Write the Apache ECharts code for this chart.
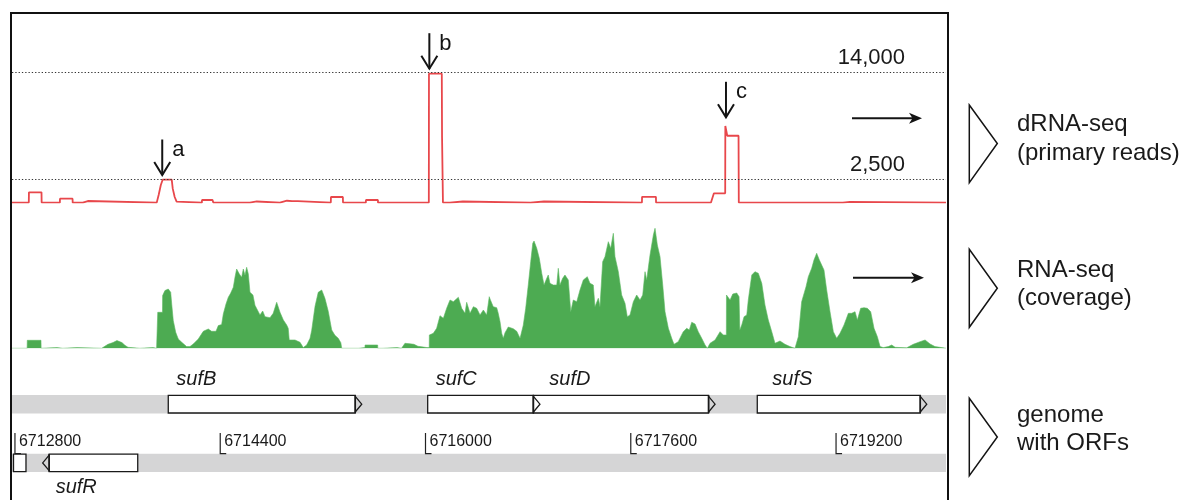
<!DOCTYPE html>
<html><head><meta charset="utf-8">
<script src="https://cdn.jsdelivr.net/npm/echarts@6/dist/echarts.min.js"></script>
<style>html,body{margin:0;padding:0;background:#fff}#c{width:1187px;height:500px}</style>
</head><body><div id="c"></div>
<script>
// ---------- data ----------
const xMin = 6712777, xMax = 6720057;          // genomic window shown
const thresholdValues = [14000, 2500];         // dotted reference levels (reads)

// dRNA-seq primary reads (step profile)
const drnaPos = [6712777,6712908,6712909,6713007,6713008,6713150,6713151,6713249,6713250,6713329,6713330,6713368,6713369,
 6713905,6713910,6713920,6713937,6713952,6714022,6714030,6714045,6714060,6714075,
 6714257,6714258,6714340,6714343,6714346,6714631,6714632,6714685,6714686,6714865,6714866,6714920,6714960,6715005,6715006,
 6715262,6715263,6715356,6715357,6715535,6715536,6715629,6715630,
 6716026,6716027,6716127,6716129,6716135,6716136,6716190,6716191,6716291,6716292,
 6716819,6716820,6716923,6716924,6717687,6717688,6717796,6717797,
 6718225,6718235,6718248,6718336,6718337,6718345,6718352,6718440,6718442,
 6719253,6719254,6719308,6719309,6720057];
const drnaVal = [0,0,1110,1110,0,0,420,420,0,0,170,170,0,
 0,100,820,1890,2480,2480,1500,600,100,0,
 0,280,280,330,0,0,120,120,0,0,150,200,150,150,0,
 0,600,600,0,0,280,280,0,
 0,13860,13860,7050,7050,0,0,120,120,0,
 0,120,120,0,0,620,620,0,
 0,100,1000,1000,8240,8240,7190,7190,0,
 0,80,80,0,0];

// RNA-seq coverage (relative units)
const covPos = [6712777,6712895,6712896,6713003,6713004,6713017,6713018,6713127,6713128,6713173,6713174,6713283,6713284,
 6713476,6713486,6713525,6713564,6713595,6713634,6713657,6713681,6713690,6713773,6713774,6713876,6713877,
 6713904,6713905,6713912,6713913,6713950,6713951,6713969,6713995,6714014,6714022,6714034,6714053,6714073,6714100,
 6714138,6714164,6714190,6714229,6714268,6714307,6714333,6714346,6714367,6714385,6714411,6714424,6714445,6714463,
 6714481,6714502,6714515,6714528,6714549,6714567,6714580,6714593,6714606,6714619,6714632,6714655,6714671,6714684,
 6714710,6714731,6714749,6714762,6714788,6714813,6714840,6714866,6714892,6714918,6714930,6714938,6714983,6715022,
 6715047,6715074,6715100,6715113,6715139,6715164,6715191,6715216,6715242,6715269,6715294,6715320,6715340,6715347,
 6715479,6715480,6715528,6715529,6715627,6715628,6715668,6715669,6715778,6715779,6715813,6715814,6715840,6715879,
 6715910,6715941,6715942,6716012,6716029,6716030,6716061,6716087,6716113,6716139,6716165,6716191,6716217,6716256,
 6716282,6716308,6716321,6716347,6716373,6716399,6716425,6716451,6716477,6716497,6716503,6716528,6716555,6716567,
 6716581,6716594,6716606,6716620,6716645,6716659,6716684,6716711,6716737,6716750,6716762,6716781,6716801,6716820,
 6716836,6716846,6716867,6716887,6716906,6716924,6716945,6716957,6716970,6716996,6717023,6717035,6717048,6717069,
 6717087,6717113,6717132,6717152,6717179,6717204,6717230,6717261,6717282,6717308,6717321,6717347,6717360,6717381,
 6717399,6717425,6717444,6717464,6717477,6717503,6717529,6717555,6717573,6717594,6717620,6717646,6717672,6717693,
 6717711,6717724,6717750,6717776,6717789,6717807,6717828,6717849,6717867,6717893,6717919,6717937,6717970,6718009,
 6718036,6718056,6718075,6718101,6718126,6718153,6718179,6718197,6718218,6718257,6718296,6718321,6718345,6718346,
 6718374,6718395,6718426,6718444,6718450,6718465,6718483,6718504,6718516,6718543,6718568,6718594,6718621,6718646,
 6718672,6718699,6718724,6718763,6718802,6718841,6718880,6718906,6718932,6718966,6718984,6719010,6719028,6719049,
 6719070,6719088,6719106,6719127,6719153,6719179,6719205,6719231,6719262,6719296,6719322,6719348,6719366,6719392,
 6719418,6719444,6719470,6719496,6719522,6719543,6719568,6719607,6719634,6719660,6719751,6719802,6719855,6719894,
 6719933,6719971,6720036,6720057];
const covVal = [0,0,80,80,0,0,7,7,0,0,7,7,0,
 0,10,40,57,77,57,30,10,0,0,7,7,0,
 0,7,7,360,360,527,577,593,560,440,277,160,93,60,
 17,17,43,93,170,193,170,180,170,227,237,343,443,510,
 550,610,710,793,743,710,793,730,810,743,560,533,430,446,
 333,373,316,317,306,350,460,360,283,233,200,83,83,60,
 7,33,100,180,420,560,583,500,370,183,130,100,56,0,
 0,7,7,33,33,0,0,7,7,0,0,20,50,45,
 40,20,7,7,7,133,150,200,326,300,400,483,466,510,
 400,350,460,350,416,400,333,383,333,516,493,416,406,350,
 266,150,100,156,213,230,196,170,100,83,230,400,633,866,
 1050,1073,1000,900,750,633,700,733,650,633,633,800,633,700,
 733,683,366,483,466,583,683,716,650,633,416,500,416,866,
 916,1066,1000,1150,916,766,533,450,316,333,466,533,483,533,
 766,683,933,1133,1200,1033,916,633,366,200,100,40,66,166,
 200,183,260,243,166,100,33,0,50,83,166,133,133,533,
 483,543,553,516,183,233,316,333,483,733,766,750,650,433,
 283,166,50,73,40,17,0,116,466,616,716,800,883,950,
 883,833,783,583,366,166,100,150,233,350,350,366,283,400,
 406,400,366,200,116,17,7,17,33,10,5,40,66,83,
 43,17,5,0];

// TSS annotations (arrow tip position / level)
const annotLabels = ['a', 'b', 'c'];
const annotPos = [6713948, 6716030, 6718342];
const annotVal = [2968, 14398, 9172];

// ORFs
const geneNames  = ['sufB', 'sufC', 'sufD', 'sufS', 'sufR', ''];
const geneStart  = [6713995, 6716017, 6716840, 6718586, 6713016, 6712777];
const geneEnd    = [6715503, 6716892, 6718257, 6719907, 6713757, 6712886];
const geneStrand = [1, 1, 1, 1, -1, -1];

// genome coordinate ticks
const tickValues = [6712800, 6714400, 6716000, 6717600, 6719200];

// track titles
const trackTitles = [['dRNA-seq', '(primary reads)'], ['RNA-seq', '(coverage)'], ['genome', 'with ORFs']];

// ---------- layout / style (not data) ----------
const FONT = '"Liberation Sans", Arial, Helvetica, sans-serif';
const labelDx = {sufB: 8, sufC: 8, sufD: 16, sufS: 15, sufR: 13};
const INK = '#141414';

const chart = echarts.init(document.getElementById('c'), null, {renderer: 'canvas'});

const rowOf = s => (s > 0 ? 1 : 0);

const option = {
  animation: false,
  backgroundColor: '#ffffff',
  grid: [
    {left: 12, right: 241, top: 67.75, height: 134.85},
    {left: 12, right: 241, top: 225, height: 123.3},
    {left: 12, right: 241, top: 374.85, height: 117.4}
  ],
  xAxis: [0, 1, 2].map(i => ({type: 'value', gridIndex: i, min: xMin, max: xMax, show: false})),
  yAxis: [
    {type: 'value', gridIndex: 0, min: 0, max: 14500, show: false},
    {type: 'value', gridIndex: 1, min: 0, max: 1233, show: false},
    {type: 'category', gridIndex: 2, data: ['reverse', 'forward'], show: false}
  ],
  series: [
    {
      type: 'line', xAxisIndex: 0, yAxisIndex: 0, symbol: 'none', clip: true, z: 3,
      data: drnaPos.map((p, i) => [p, drnaVal[i]]),
      lineStyle: {color: '#e8474b', width: 1.8},
      markLine: {
        silent: true, symbol: 'none', animation: false,
        label: {show: false},
        lineStyle: {color: '#333', type: [1.3, 2], width: 1.2},
        data: thresholdValues.map(v => ({yAxis: v}))
      }
    },
    {
      type: 'custom', xAxisIndex: 0, yAxisIndex: 0, z: 5,
      data: annotPos.map((p, i) => [p, annotVal[i]]),
      renderItem: function (params, api) {
        const p = api.coord([api.value(0), api.value(1)]);
        const x = p[0], tip = p[1];
        return {type: 'group', children: [
          {type: 'line', shape: {x1: x, y1: tip - 35.5, x2: x, y2: tip}, style: {stroke: INK, lineWidth: 2}},
          {type: 'polyline', shape: {points: [[x - 8, tip - 13], [x, tip], [x + 8, tip - 13]]},
           style: {stroke: INK, lineWidth: 2, fill: null}},
          {type: 'text', x: x + 10, y: tip - 25,
           style: {text: annotLabels[params.dataIndex], font: '22px ' + FONT, fill: INK, align: 'left', verticalAlign: 'middle'}}
        ]};
      }
    },
    {
      type: 'line', xAxisIndex: 1, yAxisIndex: 1, symbol: 'none', z: 2,
      data: covPos.map((p, i) => [p, covVal[i]]),
      lineStyle: {color: '#5db862', width: 0.6},
      areaStyle: {color: '#4dab52', opacity: 1}
    },
    {
      type: 'custom', xAxisIndex: 2, yAxisIndex: 2, z: 1,
      data: [[xMin, xMax, 0], [xMin, xMax, 1]],
      renderItem: function (params, api) {
        const s = api.coord([api.value(0), api.value(2)]);
        const e = api.coord([api.value(1), api.value(2)]);
        return {type: 'rect', shape: {x: s[0], y: s[1] - 9.2, width: e[0] - s[0], height: 18.4}, style: {fill: '#d5d5d6'}};
      }
    },
    {
      type: 'custom', xAxisIndex: 2, yAxisIndex: 2, z: 3,
      data: tickValues.map(v => [v, 0]),
      renderItem: function (params, api) {
        const p = api.coord([api.value(0), 0]);
        const x = p[0], cy = p[1];
        return {type: 'group', children: [
          {type: 'polyline', shape: {points: [[x, cy - 30], [x, cy - 9.2], [x + 6, cy - 9.2]]}, style: {stroke: '#222', lineWidth: 1.2, fill: null}},
          {type: 'text', x: x + 4, y: cy - 21,
           style: {text: String(tickValues[params.dataIndex]), font: '16px ' + FONT, fill: '#1a1a1a', align: 'left', verticalAlign: 'middle'}}
        ]};
      }
    },
    {
      type: 'custom', xAxisIndex: 2, yAxisIndex: 2, z: 4,
      data: geneStart.map((s, i) => [s, geneEnd[i], rowOf(geneStrand[i]), geneStrand[i]]),
      renderItem: function (params, api) {
        const i = params.dataIndex;
        const s = api.coord([api.value(0), api.value(2)]);
        const e = api.coord([api.value(1), api.value(2)]);
        const strand = api.value(3);
        const H = 17.6, head = 6.5;
        const cy = s[1], top = cy - H / 2, bot = cy + H / 2;
        const truncated = api.value(0) <= xMin;
        let boxL, boxR, tip = null;
        if (strand > 0) {
          boxL = s[0]; boxR = e[0] - head;
          tip = [[boxR, top + 1], [e[0], cy], [boxR, bot - 1]];
        } else {
          boxL = truncated ? s[0] + 1.5 : s[0] + head; boxR = e[0];
          if (!truncated) tip = [[boxL, top + 1], [s[0], cy], [boxL, bot - 1]];
        }
        const children = [
          {type: 'rect', z2: 1, shape: {x: boxL, y: top, width: boxR - boxL, height: H}, style: {fill: '#ffffff', stroke: '#1a1a1a', lineWidth: 1.3}}
        ];
        if (tip) {
          children.push({type: 'line', z2: 5, shape: {x1: tip[0][0], y1: top, x2: tip[0][0], y2: bot}, style: {stroke: '#1a1a1a', lineWidth: 1.6}});
          children.push({type: 'polyline', z2: 5, shape: {points: tip}, style: {stroke: '#1a1a1a', lineWidth: 1.3, fill: null}});
        }
        const name = geneNames[i];
        if (name) {
          const lx = s[0] + (labelDx[name] || 8);
          const ly = strand > 0 ? cy - 24.5 : cy + 25;
          children.push({type: 'text', z2: 6, x: lx, y: ly,
            style: {text: name, font: 'italic 20px ' + FONT, fill: '#1a1a1a', align: 'left', verticalAlign: 'middle'}});
        }
        return {type: 'group', children: children};
      }
    }
  ]
};
chart.setOption(option);

// ---------- decorations ----------
const graphics = [];
// frame
graphics.push({type: 'rect', z: 100, shape: {x: 11, y: 13, width: 937, height: 530}, style: {fill: null, stroke: '#111', lineWidth: 2}});
// threshold labels placed through the y scale
thresholdValues.forEach(v => {
  const y = chart.convertToPixel({yAxisIndex: 0}, v);
  graphics.push({type: 'text', z: 100, x: 905, y: y - 14,
    style: {text: v.toLocaleString('en-US'), font: '22px ' + FONT, fill: '#1a1a1a', align: 'right', verticalAlign: 'middle'}});
});
// direction arrows
[[852, 922, 118.3], [853, 924, 277.7]].forEach(a => {
  const [x1, x2, y] = a;
  graphics.push({type: 'line', z: 100, shape: {x1: x1, y1: y, x2: x2 - 6, y2: y}, style: {stroke: INK, lineWidth: 2}});
  graphics.push({type: 'polygon', z: 100, shape: {points: [[x2, y], [x2 - 13, y - 5.5], [x2 - 9.5, y], [x2 - 13, y + 5.5]]}, style: {fill: INK}});
});
// track triangles and titles
[[105, 143.5, 182.7, 124, 153], [249.3, 288.3, 327.3, 270, 298.5], [398.3, 437, 475.7, 415, 443.5]].forEach((t, i) => {
  graphics.push({type: 'polygon', z: 100, shape: {points: [[969.3, t[0]], [997.3, t[1]], [969.3, t[2]]]},
    style: {fill: '#fff', stroke: INK, lineWidth: 1.5}});
  graphics.push({type: 'text', z: 100, x: 1017, y: t[3], style: {text: trackTitles[i][0], font: '24px ' + FONT, fill: '#1a1a1a', verticalAlign: 'middle'}});
  graphics.push({type: 'text', z: 100, x: 1017, y: t[4], style: {text: trackTitles[i][1], font: '24px ' + FONT, fill: '#1a1a1a', verticalAlign: 'middle'}});
});
chart.setOption({graphic: graphics});
</script>
</body></html>
